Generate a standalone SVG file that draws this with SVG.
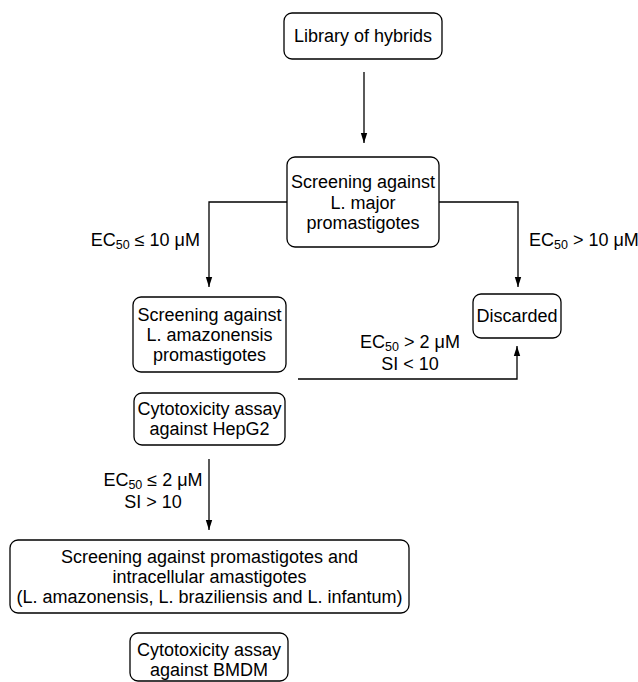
<svg xmlns="http://www.w3.org/2000/svg" width="638" height="682" viewBox="0 0 638 682">
<style>
.box{fill:#fff;stroke:#000;stroke-width:1.3}
text{font-family:"Liberation Sans",Arial,sans-serif;font-size:18px;fill:#000}
.c{text-anchor:middle}
.e{text-anchor:end}
.sub{font-size:12.5px}
.ln{fill:none;stroke:#000;stroke-width:1.3}
</style>
<defs>
<marker id="ah" viewBox="0 0 10 10" refX="10" refY="5" markerWidth="10" markerHeight="10" markerUnits="userSpaceOnUse" orient="auto">
<path d="M0,1.8 L10,5 L0,8.2 z" fill="#000"/>
</marker>
</defs>
<rect width="638" height="682" fill="#fff"/>
<g id="connectors">
<path class="ln" d="M364,72 V143" marker-end="url(#ah)"/>
<path class="ln" d="M287,202 H209 V287" marker-end="url(#ah)"/>
<path class="ln" d="M439,202 H518 V287" marker-end="url(#ah)"/>
<path class="ln" d="M298,379 H517 V346" marker-end="url(#ah)"/>
<path class="ln" d="M209,459 V530" marker-end="url(#ah)"/>
<text x="200" y="246" class="e">EC<tspan class="sub" baseline-shift="-3">50</tspan> ≤ 10 μM</text>
<text x="529" y="246">EC<tspan class="sub" baseline-shift="-3">50</tspan> &gt; 10 μM</text>
<text x="410" y="347.5" class="c">EC<tspan class="sub" baseline-shift="-3">50</tspan> &gt; 2 μM</text>
<text x="410" y="369.5" class="c">SI &lt; 10</text>
<text x="153" y="485.5" class="c">EC<tspan class="sub" baseline-shift="-3">50</tspan> ≤ 2 μM</text>
<text x="153" y="507.5" class="c">SI &gt; 10</text>
</g>
<g id="library">
<rect class="box" x="284" y="13" width="158" height="46" rx="8"/>
<text x="363" y="42" class="c">Library of hybrids</text>
</g>
<g id="screen-major">
<rect class="box" x="287" y="157" width="152" height="90" rx="8"/>
<text x="363" y="188" class="c">Screening against</text>
<text x="363" y="208.5" class="c">L. major</text>
<text x="363" y="229" class="c">promastigotes</text>
</g>
<g id="discarded">
<rect class="box" x="473" y="294" width="88" height="44" rx="8"/>
<text x="517" y="322" class="c">Discarded</text>
</g>
<g id="screen-amaz">
<rect class="box" x="133" y="297" width="153" height="75" rx="8"/>
<text x="209.5" y="321" class="c">Screening against</text>
<text x="209.5" y="341" class="c">L. amazonensis</text>
<text x="209.5" y="361" class="c">promastigotes</text>
</g>
<g id="cyto-hepg2">
<rect class="box" x="134" y="393" width="151" height="52" rx="8"/>
<text x="209.5" y="415" class="c">Cytotoxicity assay</text>
<text x="209.5" y="435" class="c">against HepG2</text>
</g>
<g id="screen-all">
<rect class="box" x="10" y="540" width="399" height="73" rx="8"/>
<text x="209.5" y="562.5" class="c">Screening against promastigotes and</text>
<text x="209.5" y="582.5" class="c">intracellular amastigotes</text>
<text x="209.5" y="603" class="c">(L. amazonensis, L. braziliensis and L. infantum)</text>
</g>
<g id="cyto-bmdm">
<rect class="box" x="130" y="633" width="158" height="48" rx="8"/>
<text x="209" y="656" class="c">Cytotoxicity assay</text>
<text x="209" y="676" class="c">against BMDM</text>
</g>
</svg>
